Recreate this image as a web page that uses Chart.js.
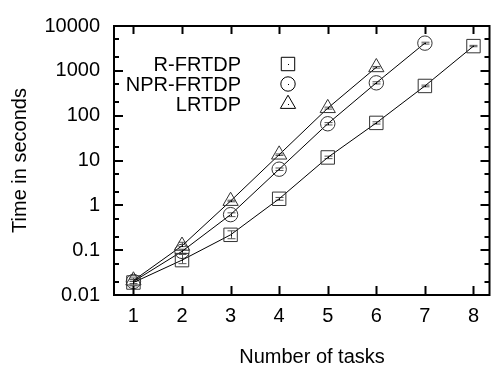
<!DOCTYPE html>
<html>
<head>
<meta charset="utf-8">
<script src="https://cdn.jsdelivr.net/npm/chart.js@4.4.1/dist/chart.umd.min.js"></script>
<style>
  html, body { margin: 0; padding: 0; background: #fff; overflow: hidden; }
  #wrap { width: 495px; height: 367px; overflow: hidden; }
</style>
</head>
<body>
<div id="wrap"><canvas id="c" width="500" height="367"></canvas></div>
<script>
// number of tasks
const tasks = [1, 2, 3, 4, 5, 6, 7, 8]

// time in seconds per planner
const rFrtdp   = [0.019, 0.06, 0.22, 1.4, 11.7, 69, 460, 3560]
const nprFrtdp = [0.02, 0.094, 0.62, 6.4, 66, 540, 4150]
const lrtdp    = [0.021, 0.125, 1.25, 13.5, 147, 1200]

// error bar ranges
const rLo   = [0.016, 0.05, 0.18, 1.3, 11, 65, 440, 3450]
const rHi   = [0.024, 0.08, 0.27, 1.5, 12.5, 73, 480, 3700]
const nprLo = [0.018, 0.085, 0.56, 6.0, 62, 510, 3950]
const nprHi = [0.022, 0.105, 0.68, 6.8, 70, 570, 4350]
const lLo   = [0.02, 0.12, 1.2, 13, 140, 1150]
const lHi   = [0.022, 0.15, 1.3, 14, 155, 1250]

const yTicks = [0.01, 0.1, 1, 10, 100, 1000, 10000]
const yTickLabels = ["0.01", "0.1", "1", "10", "100", "1000", "10000"]

const FONT = "'Liberation Sans', Arial, sans-serif"

const toPoints = (vals) => vals.map((v, i) => ({ x: tasks[i], y: v }))

const series = [
    { label: "R-FRTDP", data: rFrtdp, lo: rLo, hi: rHi, style: "rect", radius: 9.5 },
    { label: "NPR-FRTDP", data: nprFrtdp, lo: nprLo, hi: nprHi, style: "circle", radius: 7.2 },
    { label: "LRTDP", data: lrtdp, lo: lLo, hi: lHi, style: "triangle", radius: 8.8 }
]

// frame, inward ticks, error bars, centre dots, key
const gnuplotLook = {
    id: "gnuplotLook",
    beforeDatasetsDraw(chart) {
        const ctx = chart.ctx
        const xs = chart.scales.x, ys = chart.scales.y
        ctx.save()
        ctx.strokeStyle = "#555"
        ctx.lineWidth = 1
        series.forEach(s => {
            s.data.forEach((v, i) => {
                const px = Math.round(xs.getPixelForValue(tasks[i])) + 0.5
                const y1 = ys.getPixelForValue(s.lo[i])
                const y2 = ys.getPixelForValue(s.hi[i])
                ctx.beginPath()
                ctx.moveTo(px, y1); ctx.lineTo(px, y2)
                ctx.moveTo(px - 4, y1); ctx.lineTo(px + 4, y1)
                ctx.moveTo(px - 4, y2); ctx.lineTo(px + 4, y2)
                ctx.stroke()
            })
        })
        ctx.restore()
    },
    afterDatasetsDraw(chart) {
        const ctx = chart.ctx
        const a = chart.chartArea
        const xs = chart.scales.x, ys = chart.scales.y
        ctx.save()
        // centre dots
        ctx.fillStyle = "#000"
        chart.data.datasets.forEach((ds, di) => {
            chart.getDatasetMeta(di).data.forEach(pt => {
                ctx.fillRect(Math.round(pt.x), Math.round(pt.y), 1, 1)
            })
        })
        // frame
        ctx.strokeStyle = "#000"
        ctx.lineWidth = 2
        ctx.strokeRect(a.left, a.top, a.right - a.left, a.bottom - a.top)
        // x ticks
        ctx.beginPath()
        tasks.forEach(t => {
            const px = Math.round(xs.getPixelForValue(t)) + 0.5
            ctx.moveTo(px, a.bottom); ctx.lineTo(px, a.bottom - 9)
            ctx.moveTo(px, a.top); ctx.lineTo(px, a.top + 8)
        })
        // y ticks
        yTicks.forEach(v => {
            const py = Math.round(ys.getPixelForValue(v))
            ctx.moveTo(a.left, py); ctx.lineTo(a.left + 9, py)
            ctx.moveTo(a.right, py); ctx.lineTo(a.right - 9, py)
            if (v < 10000) {
                ;[2, 5].forEach(m => {
                    const my = Math.round(ys.getPixelForValue(v * m))
                    ctx.moveTo(a.left, my); ctx.lineTo(a.left + 5, my)
                    ctx.moveTo(a.right, my); ctx.lineTo(a.right - 5, my)
                })
            }
        })
        ctx.stroke()
        // key
        ctx.font = "20px " + FONT
        ctx.textAlign = "right"
        ctx.textBaseline = "middle"
        ctx.lineWidth = 1
        series.forEach((s, i) => {
            const ky = 64 + i * 20
            ctx.fillStyle = "#000"
            ctx.fillText(s.label, 241, ky + 1)
            ctx.strokeStyle = "#000"
            ctx.fillStyle = "#fff"
            Chart.helpers.drawPoint(ctx, { pointStyle: s.style, radius: s.radius, borderWidth: 1, rotation: 0 }, 288, ky)
            ctx.fillStyle = "#000"
            ctx.fillRect(288, ky, 1, 1)
        })
        // x title
        ctx.font = "20px " + FONT
        ctx.textAlign = "center"
        ctx.fillText("Number of tasks", 312, 357)
        ctx.restore()
    }
}

new Chart(document.getElementById("c").getContext("2d"), {
    type: "line",
    data: {
        datasets: series.map(s => ({
            label: s.label,
            data: toPoints(s.data),
            borderColor: "#000",
            borderWidth: 1,
            pointStyle: s.style,
            pointRadius: s.radius,
            pointBorderColor: "#333",
            pointBorderWidth: 1,
            pointBackgroundColor: "rgba(0,0,0,0)",
            fill: false,
            tension: 0
        }))
    },
    options: {
        responsive: false,
        animation: false,
        layout: { padding: { left: 0, top: 17, right: 3, bottom: 0 } },
        plugins: { legend: { display: false }, tooltip: { enabled: false } },
        scales: {
            x: {
                type: "linear",
                min: 0.6,
                max: 8.33,
                grid: { display: false, drawTicks: false },
                border: { display: false },
                afterBuildTicks: (scale) => { scale.ticks = tasks.map(t => ({ value: t })) },
                afterFit: (scale) => { scale.height = 72 },
                ticks: {
                    padding: 9,
                    color: "#000",
                    font: { family: FONT, size: 20 },
                    callback: (v) => String(v)
                }
            },
            y: {
                type: "logarithmic",
                min: 0.01,
                max: 10000,
                grid: { display: false, drawTicks: false },
                border: { display: false },
                afterBuildTicks: (scale) => { scale.ticks = yTicks.map(v => ({ value: v })) },
                afterFit: (scale) => { scale.width = 114 },
                ticks: {
                    padding: 14,
                    color: "#000",
                    font: { family: FONT, size: 20 },
                    callback: (v) => yTickLabels[yTicks.indexOf(v)]
                },
                title: {
                    display: true,
                    text: "Time in seconds",
                    color: "#000",
                    font: { family: FONT, size: 20 },
                    padding: { top: 8, bottom: 0 }
                }
            }
        }
    },
    plugins: [gnuplotLook]
})
</script>
</body>
</html>
